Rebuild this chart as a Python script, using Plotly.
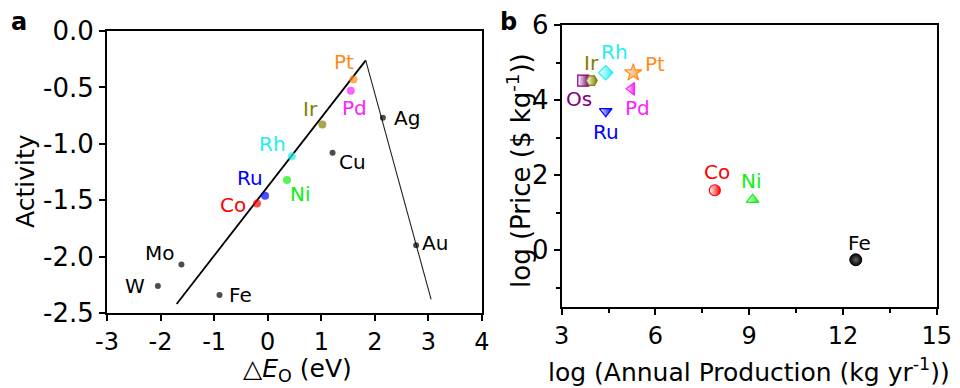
import plotly.graph_objects as go

# ---------------- Panel a data ----------------
a_names = ["Pt", "Pd", "Ir", "Ag", "Cu", "Rh", "Ni", "Ru", "Co", "Au", "Mo", "W", "Fe"]
a_dE = [1.60, 1.55, 1.02, 2.15, 1.21, 0.45, 0.36, -0.05, -0.20, 2.77, -1.61, -2.05, -0.90]
a_act = [-0.43, -0.53, -0.83, -0.77, -1.08, -1.11, -1.32, -1.46, -1.53, -1.90, -2.07, -2.26, -2.34]
volcano_left_x = [-1.70, 1.83]
volcano_left_y = [-2.42, -0.26]
volcano_right_x = [1.83, 3.05]
volcano_right_y = [-0.26, -2.38]
a_xticks = [-3, -2, -1, 0, 1, 2, 3, 4]
a_xticktext = ["-3", "-2", "-1", "0", "1", "2", "3", "4"]
a_yticks = [0.0, -0.5, -1.0, -1.5, -2.0, -2.5]
a_yticktext = ["0.0", "-0.5", "-1.0", "-1.5", "-2.0", "-2.5"]

# ---------------- Panel b data ----------------
b_names = ["Os", "Ir", "Rh", "Pt", "Pd", "Ru", "Co", "Ni", "Fe"]
b_prod = [3.69, 3.96, 4.41, 5.29, 5.24, 4.41, 7.90, 9.11, 12.41]
b_price = [4.52, 4.52, 4.73, 4.73, 4.30, 3.70, 1.60, 1.35, -0.25]
b_xticks = [3, 6, 9, 12, 15]
b_yticks = [0, 2, 4, 6]

# ---------------- styles ----------------
colors = {"Pt": "#FF8C1A", "Pd": "#FF1EFF", "Ir": "#808000", "Rh": "#22EEF0",
          "Ru": "#0000FF", "Ni": "#11EE11", "Co": "#FF0000", "Os": "#800080"}
symbols_b = {"Os": "square", "Ir": "hexagon2", "Rh": "diamond", "Pt": "star",
             "Pd": "triangle-left", "Ru": "triangle-down", "Co": "circle",
             "Ni": "triangle-up", "Fe": "circle"}
# label placement (xanchor, xshift px, yshift px)
a_lab = {"Pt": ("center", -9, 17), "Pd": ("center", 4, -17), "Ir": ("center", -12, 16),
         "Ag": ("left", 9, 0), "Cu": ("left", 4, -9), "Rh": ("center", -19, 12),
         "Ni": ("center", 13, -14), "Ru": ("center", -15, 18), "Co": ("right", -9, -1),
         "Au": ("left", 4, 2), "Mo": ("center", -21, 12), "W": ("right", -11, 0),
         "Fe": ("left", 7, 0)}
b_lab = {"Os": ("center", -4, -18), "Ir": ("center", 0, 18), "Rh": ("center", 9, 21),
         "Pt": ("center", 22, 9), "Pd": ("center", 6, -19), "Ru": ("center", 0, -21),
         "Co": ("center", 2, 18), "Ni": ("center", -1, 19), "Fe": ("center", 4, 17)}

FONT = "DejaVu Sans, Liberation Sans, Arial, sans-serif"
fig = go.Figure()

# volcano lines
fig.add_trace(go.Scatter(x=volcano_left_x, y=volcano_left_y, mode="lines",
                         line=dict(color="black", width=1.8), xaxis="x", yaxis="y",
                         showlegend=False, hoverinfo="skip"))
fig.add_trace(go.Scatter(x=volcano_right_x, y=volcano_right_y, mode="lines",
                         line=dict(color="#222", width=1.1), xaxis="x", yaxis="y",
                         showlegend=False, hoverinfo="skip"))
# panel a points
fig.add_trace(go.Scatter(
    x=a_dE, y=a_act, mode="markers", xaxis="x", yaxis="y", showlegend=False,
    marker=dict(color=[colors.get(n, "black") for n in a_names],
                size=[8 if n in colors else 6 for n in a_names], line=dict(width=0)),
    text=a_names))

# panel b points
for n, xv, yv in zip(b_names, b_prod, b_price):
    if n == "Fe":
        mk = dict(symbol="circle", size=12, color="black",
                  gradient=dict(type="radial", color="#666666"),
                  line=dict(color="black", width=1))
    else:
        c = colors[n]
        mk = dict(symbol=symbols_b[n], size=13 if n == "Pt" else 11, color="white",
                  gradient=dict(type="horizontal", color=c),
                  line=dict(color=c, width=1.2))
    fig.add_trace(go.Scatter(x=[xv], y=[yv], mode="markers", xaxis="x2", yaxis="y2",
                             marker=mk, showlegend=False, name=n))

ann = []
for n, xv, yv in zip(a_names, a_dE, a_act):
    xa, dx, dy = a_lab[n]
    ann.append(dict(x=xv, y=yv, xref="x", yref="y", text=n, showarrow=False,
                    xanchor=xa, yanchor="middle", xshift=dx, yshift=dy,
                    font=dict(size=20, color=colors.get(n, "black"), family=FONT)))
for n, xv, yv in zip(b_names, b_prod, b_price):
    xa, dx, dy = b_lab[n]
    ann.append(dict(x=xv, y=yv, xref="x2", yref="y2", text=n, showarrow=False,
                    xanchor=xa, yanchor="middle", xshift=dx, yshift=dy,
                    font=dict(size=20, color=colors.get(n, "black"), family=FONT)))

# axis titles & panel letters
H, W = 388, 960
def px(x, y):
    return x / W, 1 - y / H

for txt, (x, y), rot, size in [
    ("Activity", (25, 181), -90, 25),
    ("△<i>E</i><sub>O</sub> (eV)", (297, 370), 0, 25),
    ("log (Price ($ kg<sup>-1</sup>))", (519, 171), -90, 26),
    ("log (Annual Production (kg yr<sup>-1</sup>))", (749, 370), 0, 25),
]:
    xx, yy = px(x, y)
    ann.append(dict(x=xx, y=yy, xref="paper", yref="paper", text=txt, showarrow=False,
                    textangle=rot, xanchor="center", yanchor="middle",
                    font=dict(size=size, color="black", family=FONT)))
for txt, (x, y) in [("a", (19, 22)), ("b", (508, 22))]:
    xx, yy = px(x, y)
    ann.append(dict(x=xx, y=yy, xref="paper", yref="paper", text="<b>%s</b>" % txt,
                    showarrow=False, xanchor="center", yanchor="middle",
                    font=dict(size=24, color="black", family=FONT)))

axis_common = dict(showgrid=False, zeroline=False, showline=True, linecolor="black",
                   linewidth=2, mirror=True, ticks="outside", ticklen=6, tickwidth=2,
                   tickcolor="black", automargin=False)
tf_x = dict(size=24, color="black", family=FONT)
tf_y = dict(size=26, color="black", family=FONT)

fig.update_layout(
    width=W, height=H, margin=dict(l=0, r=0, t=0, b=0, pad=0, autoexpand=False),
    paper_bgcolor="white", plot_bgcolor="white",
    xaxis=dict(domain=[107 / W, 482 / W], anchor="y", range=[-3, 4],
               tickmode="array", tickvals=a_xticks, ticktext=a_xticktext,
               tickfont=tf_x, **axis_common),
    yaxis=dict(domain=[1 - 313 / H, 1 - 31 / H], anchor="x", range=[-2.5, 0],
               tickmode="array", tickvals=a_yticks, ticktext=a_yticktext,
               tickfont=tf_y, **axis_common),
    xaxis2=dict(domain=[561.7 / W, 936.7 / W], anchor="y2", range=[3, 15],
                tickmode="array", tickvals=b_xticks,
                minor=dict(ticks="outside", ticklen=4, tickwidth=2, tickcolor="black",
                           tickmode="linear", tick0=3, dtick=1.5),
                tickfont=tf_x, **axis_common),
    yaxis2=dict(domain=[1 - 306.7 / H, 1 - 25 / H], anchor="x2", range=[-1.5, 6],
                tickmode="array", tickvals=b_yticks,
                minor=dict(ticks="outside", ticklen=4, tickwidth=2, tickcolor="black",
                           tickmode="linear", tick0=0, dtick=1),
                tickfont=tf_y, **axis_common),
    annotations=ann,
    showlegend=False,
)

fig.write_html("out.html")
